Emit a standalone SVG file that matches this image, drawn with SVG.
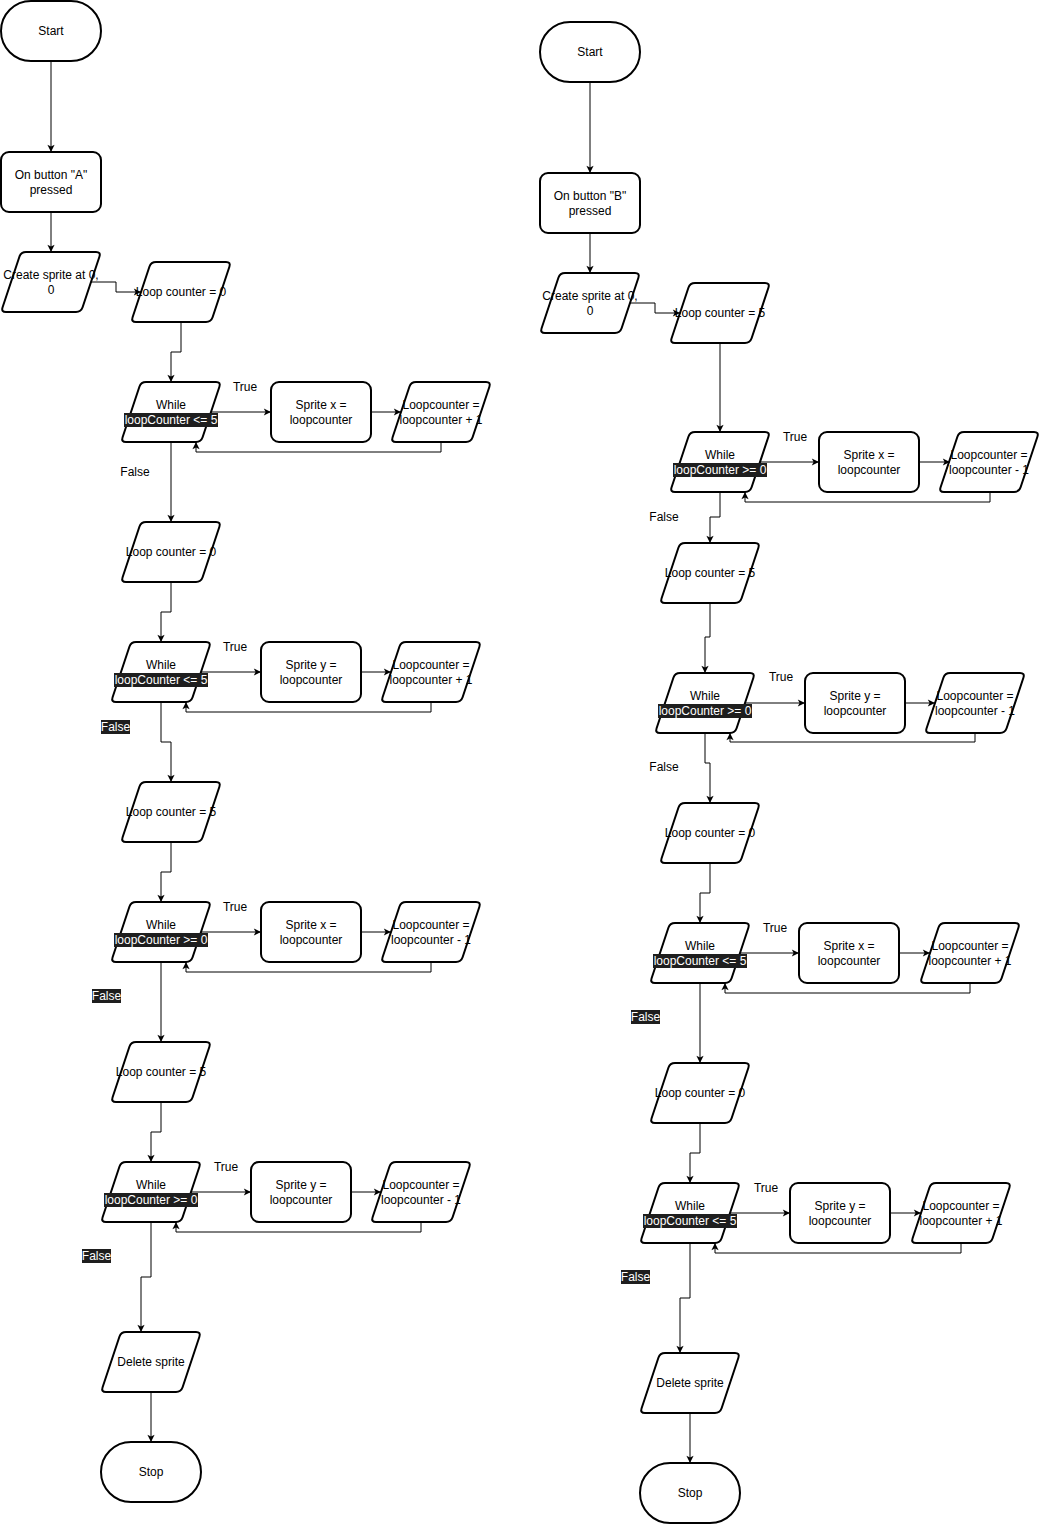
<svg xmlns="http://www.w3.org/2000/svg" xmlns:xlink="http://www.w3.org/1999/xlink" width="1040" height="1525" viewBox="0 0 1040 1525">
<style>
.sh{fill:#fff;stroke:#000;stroke-width:2}
.t{font-family:"Liberation Sans",Arial,Helvetica,sans-serif;font-size:12px;fill:#000;text-anchor:middle}
.tw{font-family:"Liberation Sans",Arial,Helvetica,sans-serif;font-size:12px;fill:#fff;text-anchor:middle}
.hl{fill:#1e1e1e}
.c{fill:none;stroke:#000;stroke-width:1}
</style>
<defs>
<marker id="arr" viewBox="0 0 10 10" refX="9" refY="5" markerWidth="9" markerHeight="9" markerUnits="userSpaceOnUse" orient="auto"><path d="M1,1 L9,5 L1,9 L3,5 Z" fill="#000"/></marker>
<path id="para" d="M25,0 H95 Q100,0 98.4,4.7 L81.6,55.3 Q80,60 75,60 H5 Q0,60 1.6,55.3 L18.4,4.7 Q20,0 25,0 Z"/>
<rect id="proc" x="0" y="0" width="100" height="60" rx="8" ry="8"/>
<rect id="term" x="0" y="0" width="100" height="60" rx="30" ry="30"/>
</defs>
<rect width="1040" height="1525" fill="#fff"/>

<!-- Left column -->
<g id="startA"><use href="#term" class="sh" x="1" y="1"/><text class="t" x="51" y="35">Start</text></g>
<g id="btnA"><use href="#proc" class="sh" x="1" y="152"/><text class="t" x="51" y="178.5">On button "A"</text><text class="t" x="51" y="193.5">pressed</text></g>
<g id="createA"><use href="#para" class="sh" x="1" y="252"/><text class="t" x="51" y="278.5">Create sprite at 0,</text><text class="t" x="51" y="293.5">0</text></g>
<g id="lcA1"><use href="#para" class="sh" x="131" y="262"/><text class="t" x="181" y="296">Loop counter = 0</text></g>
<g id="whileA1"><use href="#para" class="sh" x="121" y="382"/><text class="t" x="171" y="408.5">While</text><rect class="hl" x="124" y="413" width="94" height="14"/><text class="tw" x="171" y="423.5">loopCounter &lt;= 5</text></g>
<g id="spriteA1"><use href="#proc" class="sh" x="271" y="382"/><text class="t" x="321" y="408.5">Sprite x =</text><text class="t" x="321" y="423.5">loopcounter</text></g>
<g id="incA1"><use href="#para" class="sh" x="391" y="382"/><text class="t" x="441" y="408.5">Loopcounter =</text><text class="t" x="441" y="423.5">loopcounter + 1</text></g>

<g id="lcA2"><use href="#para" class="sh" x="121" y="522"/><text class="t" x="171" y="556">Loop counter = 0</text></g>
<g id="whileA2"><use href="#para" class="sh" x="111" y="642"/><text class="t" x="161" y="668.5">While</text><rect class="hl" x="114" y="673" width="94" height="14"/><text class="tw" x="161" y="683.5">loopCounter &lt;= 5</text></g>
<g id="spriteA2"><use href="#proc" class="sh" x="261" y="642"/><text class="t" x="311" y="668.5">Sprite y =</text><text class="t" x="311" y="683.5">loopcounter</text></g>
<g id="incA2"><use href="#para" class="sh" x="381" y="642"/><text class="t" x="431" y="668.5">Loopcounter =</text><text class="t" x="431" y="683.5">loopcounter + 1</text></g>

<g id="lcA3"><use href="#para" class="sh" x="121" y="782"/><text class="t" x="171" y="816">Loop counter = 5</text></g>
<g id="whileA3"><use href="#para" class="sh" x="111" y="902"/><text class="t" x="161" y="928.5">While</text><rect class="hl" x="114" y="933" width="94" height="14"/><text class="tw" x="161" y="943.5">loopCounter &gt;= 0</text></g>
<g id="spriteA3"><use href="#proc" class="sh" x="261" y="902"/><text class="t" x="311" y="928.5">Sprite x =</text><text class="t" x="311" y="943.5">loopcounter</text></g>
<g id="decA3"><use href="#para" class="sh" x="381" y="902"/><text class="t" x="431" y="928.5">Loopcounter =</text><text class="t" x="431" y="943.5">loopcounter - 1</text></g>

<g id="lcA4"><use href="#para" class="sh" x="111" y="1042"/><text class="t" x="161" y="1076">Loop counter = 5</text></g>
<g id="whileA4"><use href="#para" class="sh" x="101" y="1162"/><text class="t" x="151" y="1188.5">While</text><rect class="hl" x="104" y="1193" width="94" height="14"/><text class="tw" x="151" y="1203.5">loopCounter &gt;= 0</text></g>
<g id="spriteA4"><use href="#proc" class="sh" x="251" y="1162"/><text class="t" x="301" y="1188.5">Sprite y =</text><text class="t" x="301" y="1203.5">loopcounter</text></g>
<g id="decA4"><use href="#para" class="sh" x="371" y="1162"/><text class="t" x="421" y="1188.5">Loopcounter =</text><text class="t" x="421" y="1203.5">loopcounter - 1</text></g>

<g id="deleteA"><use href="#para" class="sh" x="101" y="1332"/><text class="t" x="151" y="1366">Delete sprite</text></g>
<g id="stopA"><use href="#term" class="sh" x="101" y="1442"/><text class="t" x="151" y="1476">Stop</text></g>

<!-- Right column -->
<g id="startB"><use href="#term" class="sh" x="540" y="22"/><text class="t" x="590" y="56">Start</text></g>
<g id="btnB"><use href="#proc" class="sh" x="540" y="173"/><text class="t" x="590" y="199.5">On button "B"</text><text class="t" x="590" y="214.5">pressed</text></g>
<g id="createB"><use href="#para" class="sh" x="540" y="273"/><text class="t" x="590" y="299.5">Create sprite at 0,</text><text class="t" x="590" y="314.5">0</text></g>
<g id="lcB1"><use href="#para" class="sh" x="670" y="283"/><text class="t" x="720" y="317">Loop counter = 5</text></g>
<g id="whileB1"><use href="#para" class="sh" x="670" y="432"/><text class="t" x="720" y="458.5">While</text><rect class="hl" x="673" y="463" width="94" height="14"/><text class="tw" x="720" y="473.5">loopCounter &gt;= 0</text></g>
<g id="spriteB1"><use href="#proc" class="sh" x="819" y="432"/><text class="t" x="869" y="458.5">Sprite x =</text><text class="t" x="869" y="473.5">loopcounter</text></g>
<g id="decB1"><use href="#para" class="sh" x="939" y="432"/><text class="t" x="989" y="458.5">Loopcounter =</text><text class="t" x="989" y="473.5">loopcounter - 1</text></g>

<g id="lcB2"><use href="#para" class="sh" x="660" y="543"/><text class="t" x="710" y="577">Loop counter = 5</text></g>
<g id="whileB2"><use href="#para" class="sh" x="655" y="673"/><text class="t" x="705" y="699.5">While</text><rect class="hl" x="658" y="704" width="94" height="14"/><text class="tw" x="705" y="714.5">loopCounter &gt;= 0</text></g>
<g id="spriteB2"><use href="#proc" class="sh" x="805" y="673"/><text class="t" x="855" y="699.5">Sprite y =</text><text class="t" x="855" y="714.5">loopcounter</text></g>
<g id="decB2"><use href="#para" class="sh" x="925" y="673"/><text class="t" x="975" y="699.5">Loopcounter =</text><text class="t" x="975" y="714.5">loopcounter - 1</text></g>

<g id="lcB3"><use href="#para" class="sh" x="660" y="803"/><text class="t" x="710" y="837">Loop counter = 0</text></g>
<g id="whileB3"><use href="#para" class="sh" x="650" y="923"/><text class="t" x="700" y="949.5">While</text><rect class="hl" x="653" y="954" width="94" height="14"/><text class="tw" x="700" y="964.5">loopCounter &lt;= 5</text></g>
<g id="spriteB3"><use href="#proc" class="sh" x="799" y="923"/><text class="t" x="849" y="949.5">Sprite x =</text><text class="t" x="849" y="964.5">loopcounter</text></g>
<g id="incB3"><use href="#para" class="sh" x="920" y="923"/><text class="t" x="970" y="949.5">Loopcounter =</text><text class="t" x="970" y="964.5">loopcounter + 1</text></g>

<g id="lcB4"><use href="#para" class="sh" x="650" y="1063"/><text class="t" x="700" y="1097">Loop counter = 0</text></g>
<g id="whileB4"><use href="#para" class="sh" x="640" y="1183"/><text class="t" x="690" y="1209.5">While</text><rect class="hl" x="643" y="1214" width="94" height="14"/><text class="tw" x="690" y="1224.5">loopCounter &lt;= 5</text></g>
<g id="spriteB4"><use href="#proc" class="sh" x="790" y="1183"/><text class="t" x="840" y="1209.5">Sprite y =</text><text class="t" x="840" y="1224.5">loopcounter</text></g>
<g id="incB4"><use href="#para" class="sh" x="911" y="1183"/><text class="t" x="961" y="1209.5">Loopcounter =</text><text class="t" x="961" y="1224.5">loopcounter + 1</text></g>

<g id="deleteB"><use href="#para" class="sh" x="640" y="1353"/><text class="t" x="690" y="1387">Delete sprite</text></g>
<g id="stopB"><use href="#term" class="sh" x="640" y="1463"/><text class="t" x="690" y="1497">Stop</text></g>

<g id="connectors">
<g class="c" marker-end="url(#arr)">
<path d="M51,61 V152"/>
<path d="M51,212 V252"/>
<path d="M91,282 H116 V292 H141"/>
<path d="M181,322 V352 H171 V382"/>
<path d="M211,412 H271"/>
<path d="M371,412 H401"/>
<path d="M441,442 V452 H196 V442"/>
<path d="M171,442 V522"/>
<path d="M171,582 V612 H161 V642"/>
<path d="M201,672 H261"/>
<path d="M361,672 H391"/>
<path d="M431,702 V712 H186 V702"/>
<path d="M161,702 V742 H171 V782"/>
<path d="M171,842 V872 H161 V902"/>
<path d="M201,932 H261"/>
<path d="M361,932 H391"/>
<path d="M431,962 V972 H186 V962"/>
<path d="M161,962 V1042"/>
<path d="M161,1102 V1132 H151 V1162"/>
<path d="M191,1192 H251"/>
<path d="M351,1192 H381"/>
<path d="M421,1222 V1232 H176 V1222"/>
<path d="M151,1222 V1277 H141 V1332"/>
<path d="M151,1392 V1442"/>

<path d="M590,82 V173"/>
<path d="M590,233 V273"/>
<path d="M630,303 H655 V313 H680"/>
<path d="M720,343 V432"/>
<path d="M760,462 H819"/>
<path d="M919,462 H950"/>
<path d="M990,492 V502 H745 V492"/>
<path d="M720,492 V517 H710 V543"/>
<path d="M710,603 V637 H705 V673"/>
<path d="M745,703 H805"/>
<path d="M905,703 H935"/>
<path d="M975,733 V742 H730 V733"/>
<path d="M705,733 V763 H710 V803"/>
<path d="M710,863 V893 H700 V923"/>
<path d="M740,953 H799"/>
<path d="M899,953 H930"/>
<path d="M970,983 V993 H725 V983"/>
<path d="M700,983 V1063"/>
<path d="M700,1123 V1153 H690 V1183"/>
<path d="M730,1213 H790"/>
<path d="M890,1213 H921"/>
<path d="M961,1243 V1253 H715 V1243"/>
<path d="M690,1243 V1298 H680 V1353"/>
<path d="M690,1413 V1463"/>
</g>
<g id="edge-labels">
<text class="t" x="245" y="391">True</text>
<text class="t" x="235" y="651">True</text>
<text class="t" x="235" y="911">True</text>
<text class="t" x="226" y="1171">True</text>
<text class="t" x="795" y="441">True</text>
<text class="t" x="781" y="681">True</text>
<text class="t" x="775" y="932">True</text>
<text class="t" x="766" y="1192">True</text>
<text class="t" x="135" y="476">False</text>
<text class="t" x="664" y="521">False</text>
<text class="t" x="664" y="771">False</text>
<rect class="hl" x="101" y="720" width="29" height="14"/><text class="tw" x="115.5" y="731">False</text>
<rect class="hl" x="92" y="989" width="29" height="14"/><text class="tw" x="106.5" y="1000">False</text>
<rect class="hl" x="82" y="1249" width="29" height="14"/><text class="tw" x="96.5" y="1260">False</text>
<rect class="hl" x="631" y="1010" width="29" height="14"/><text class="tw" x="645.5" y="1021">False</text>
<rect class="hl" x="621" y="1270" width="29" height="14"/><text class="tw" x="635.5" y="1281">False</text>
</g>
</g>
</svg>
